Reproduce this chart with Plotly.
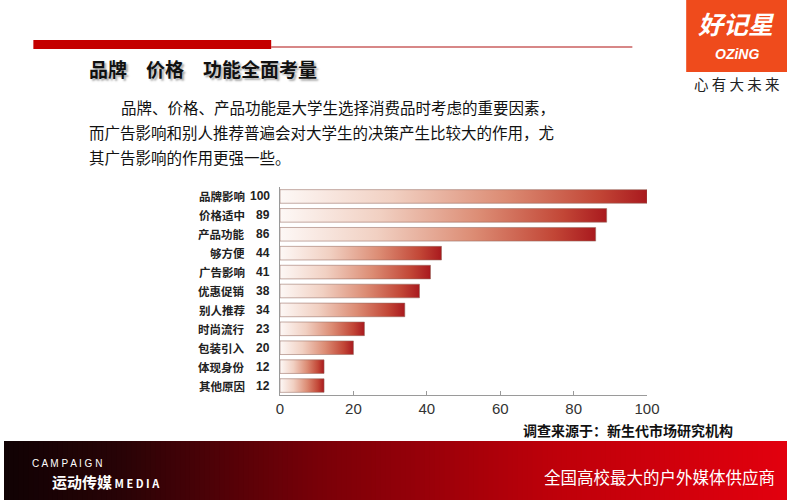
import plotly.graph_objects as go

# ---- data ----
categories = ["品牌影响", "价格适中", "产品功能", "够方便", "广告影响", "优惠促销",
              "别人推荐", "时尚流行", "包装引入", "体现身份", "其他原因"]
values = [100, 89, 86, 44, 41, 38, 34, 23, 20, 12, 12]
x_ticks = [0, 20, 40, 60, 80, 100]

title_text = "品牌　价格　功能全面考量"
para_lines = ["品牌、价格、产品功能是大学生选择消费品时考虑的重要因素，",
              "而广告影响和别人推荐普遍会对大学生的决策产生比较大的作用，尤",
              "其广告影响的作用更强一些。"]
source_text = "调查来源于：新生代市场研究机构"

W, H = 800, 500
CJK = "Noto Sans CJK SC"
bar_half = 0.36
bar_scale = [[0, "#fdf8f6"], [0.3, "#f1d0c2"], [0.6, "#dc8c74"],
             [0.85, "#c24636"], [1, "#a5121a"]]
banner_stops = [(0.0, (16, 2, 4)), (0.15, (40, 3, 6)), (0.4, (120, 0, 8)),
                (0.7, (190, 0, 10)), (1.0, (226, 0, 14))]


def banner_color(t):
    for (t0, c0), (t1, c1) in zip(banner_stops[:-1], banner_stops[1:]):
        if t0 <= t <= t1:
            f = (t - t0) / (t1 - t0)
            return "rgb(%d,%d,%d)" % tuple(round(a + (b - a) * f) for a, b in zip(c0, c1))
    return "rgb(%d,%d,%d)" % banner_stops[-1][1]


fig = go.Figure()

# bars as gradient-filled polygons derived from the values
for i, (c, v) in enumerate(zip(categories, values)):
    fig.add_trace(go.Scatter(
        x=[0, v, v, 0, 0],
        y=[i - bar_half, i - bar_half, i + bar_half, i + bar_half, i - bar_half],
        mode="lines", fill="toself",
        fillgradient=dict(type="horizontal", colorscale=bar_scale, start=0, stop=v),
        line=dict(color="rgba(150,105,95,0.55)", width=1),
        hoverinfo="skip", showlegend=False))

x0px, x1px = 282, 657
ytop, ybot = 187, 395

fig.update_layout(
    width=W, height=H, margin=dict(l=0, r=0, t=0, b=0),
    paper_bgcolor="white", plot_bgcolor="rgba(0,0,0,0)", showlegend=False,
    dragmode=False,
    xaxis=dict(domain=[x0px / W, x1px / W], range=[0, 100], anchor="y",
               tickvals=x_ticks, ticktext=[str(t) for t in x_ticks],
               ticks="inside", ticklen=4, tickcolor="#9a9a9a",
               showline=True, linecolor="#9a9a9a", linewidth=1,
               showgrid=False, zeroline=False, fixedrange=True,
               tickfont=dict(family="Liberation Sans Narrow, Liberation Sans, Arial",
                             size=15, color="#333333")),
    yaxis=dict(domain=[1 - ybot / H, 1 - ytop / H], range=[len(categories) - 0.5, -0.5],
               anchor="x",
               showline=True, linecolor="#9a9a9a", linewidth=1,
               showticklabels=False, ticks="", showgrid=False, zeroline=False,
               fixedrange=True),
)

shapes = [
    # top red rule
    dict(type="rect", xref="paper", yref="paper", x0=30 / W, x1=273 / W,
         y0=1 - 49 / H, y1=1 - 40 / H, fillcolor="#c40000", line=dict(width=0)),
    dict(type="line", xref="paper", yref="paper", x0=273 / W, x1=642 / W,
         y0=1 - 47 / H, y1=1 - 47 / H, line=dict(color="#b01010", width=1.2)),
    # logo box
    dict(type="rect", xref="paper", yref="paper", x0=697 / W, x1=1,
         y0=1 - 72 / H, y1=1, fillcolor="#ef4b1c", line=dict(width=0)),
]
# bottom banner (horizontal gradient built from thin strips)
n_strips = 160
for k in range(n_strips):
    shapes.append(dict(type="rect", xref="paper", yref="paper",
                       x0=k / n_strips, x1=min(1, (k + 1.6) / n_strips),
                       y0=0, y1=1 - 441 / H, layer="below",
                       fillcolor=banner_color((k + 0.5) / n_strips), line=dict(width=0)))
fig.update_layout(shapes=shapes)

ann = []
# category labels and values
for i, (c, v) in enumerate(zip(categories, values)):
    ann.append(dict(x=248 / W, y=i, xref="paper", yref="y", text=c, showarrow=False,
                    xanchor="right", yanchor="middle",
                    font=dict(family=CJK, size=11.5, color="#222222", weight="bold")))
    ann.append(dict(x=274 / W, y=i, xref="paper", yref="y", text=str(v), showarrow=False,
                    xanchor="right", yanchor="middle",
                    font=dict(family="Liberation Sans, Arial", size=12, color="#222222",
                              weight="bold")))

# title and paragraph
ann.append(dict(x=85 / W, y=1 - 68 / H, xref="paper", yref="paper", text=title_text,
                showarrow=False, xanchor="left", yanchor="middle",
                font=dict(family=CJK, size=19, color="#111111", weight="bold",
                          shadow="2px 2px 2px #aaaaaa")))
para_x = [117, 85, 85]
para_y = [107, 132, 157]
for t, px, py in zip(para_lines, para_x, para_y):
    ann.append(dict(x=px / W, y=1 - py / H, xref="paper", yref="paper", text=t,
                    showarrow=False, xanchor="left", yanchor="middle",
                    font=dict(family=CJK, size=15.5, color="#111111")))

# source
ann.append(dict(x=528 / W, y=1 - 430 / H, xref="paper", yref="paper", text=source_text,
                showarrow=False, xanchor="left", yanchor="middle",
                font=dict(family=CJK, size=14, color="#111111", weight="bold")))

# logo texts
ann.append(dict(x=748 / W, y=1 - 23 / H, xref="paper", yref="paper", text="好记星",
                showarrow=False, xanchor="center", yanchor="middle",
                font=dict(family=CJK, size=25, color="white", weight="bold", style="italic")))
ann.append(dict(x=749 / W, y=1 - 54 / H, xref="paper", yref="paper", text="OZiNG",
                showarrow=False, xanchor="center", yanchor="middle",
                font=dict(family="Liberation Sans, Arial", size=14, color="white",
                          weight="bold", style="italic")))
ann.append(dict(x=749 / W, y=1 - 83 / H, xref="paper", yref="paper", text="心 有 大 未 来",
                showarrow=False, xanchor="center", yanchor="middle",
                font=dict(family=CJK, size=14.5, color="#222222")))

# banner texts
ann.append(dict(x=27 / W, y=1 - 463 / H, xref="paper", yref="paper", text="C A M P A I G N",
                showarrow=False, xanchor="left", yanchor="middle",
                font=dict(family="Liberation Sans, Arial", size=10, color="white")))
ann.append(dict(x=47 / W, y=1 - 481 / H, xref="paper", yref="paper",
                text="运动传媒<span style='font-size:11px'> M E D I A</span>",
                showarrow=False, xanchor="left", yanchor="middle",
                font=dict(family=CJK, size=15, color="white", weight="bold")))
ann.append(dict(x=790 / W, y=1 - 477 / H, xref="paper", yref="paper",
                text="全国高校最大的户外媒体供应商",
                showarrow=False, xanchor="right", yanchor="middle",
                font=dict(family=CJK, size=16.5, color="white")))

fig.update_layout(annotations=ann)

fig.write_html("out.html", config={"displayModeBar": False})
